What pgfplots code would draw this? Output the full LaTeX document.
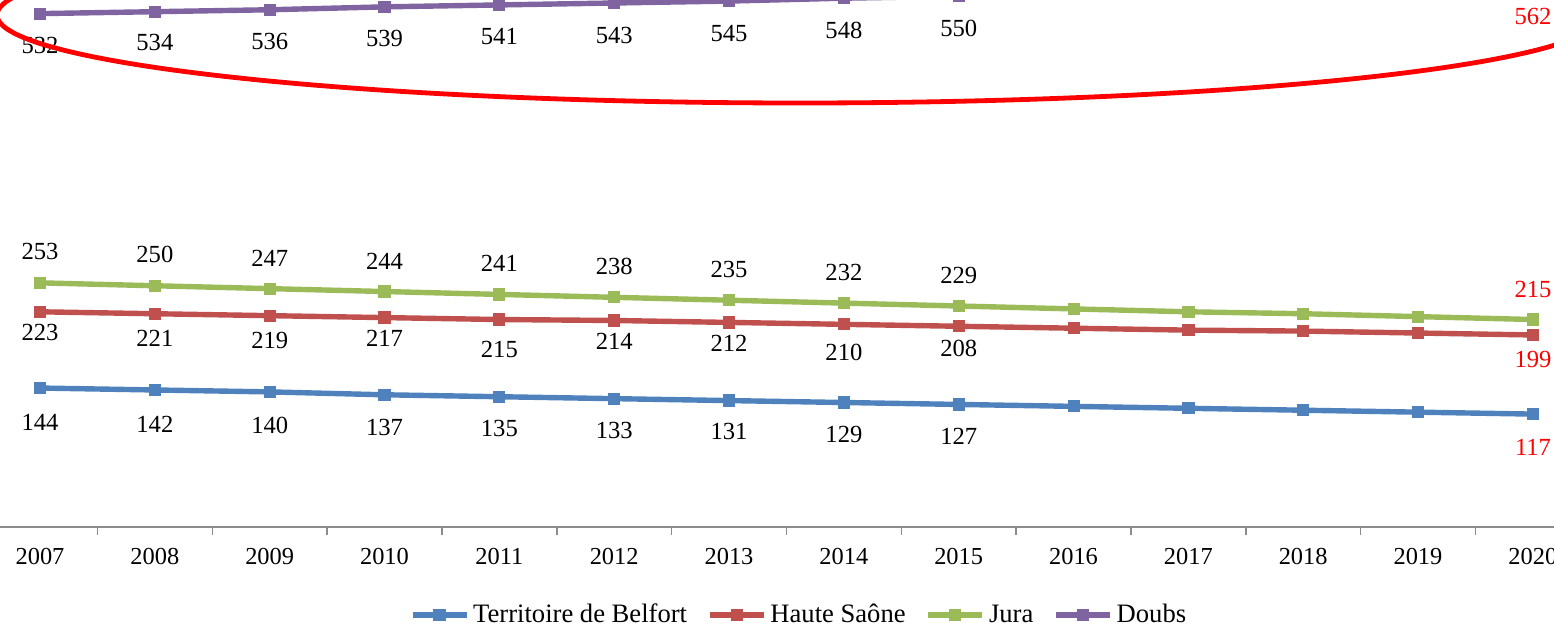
\documentclass[border=0pt]{standalone}
\usepackage{fontspec}
\setmainfont{Liberation Serif}
\usepackage{pgfplots}
\usepackage{pgfplotstable}
\pgfplotsset{compat=1.18}
\definecolor{cBelfort}{HTML}{4F81BD}
\definecolor{cHaute}{HTML}{C0504D}
\definecolor{cJura}{HTML}{9BBB59}
\definecolor{cDoubs}{HTML}{8064A2}
\definecolor{axisgray}{HTML}{8C8C8C}

% year, value, label offset in px (positive = below the point)
\pgfplotstableread{
year val dy
2007 144 34
2008 142 34
2009 140 34
2010 137 33
2011 135 32
2012 133 32
2013 131 31
2014 129 32
2015 127 32
2016 125 33
2017 123 33
2018 121 33
2019 119 33
2020 117 33
}\belfort
\pgfplotstableread{
year val dy
2007 223 21
2008 221 25
2009 219 25
2010 217 21
2011 215 30
2012 214 21
2013 212 21
2014 210 28
2015 208 22
2016 206 25
2017 204 25
2018 203 25
2019 201 25
2020 199 25
}\haute
\pgfplotstableread{
year val dy
2007 253 -31
2008 250 -31
2009 247 -30
2010 244 -30
2011 241 -31
2012 238 -31
2013 235 -31
2014 232 -31
2015 229 -31
2016 226 -31
2017 223 -31
2018 221 -31
2019 218 -31
2020 215 -30
}\jura
\pgfplotstableread{
year val dy
2007 532 32
2008 534 31
2009 536 32
2010 539 32
2011 541 32
2012 543 32
2013 545 32
2014 548 32
2015 550 32
2016 552 32
2017 555 32
2018 557 32
2019 560 32
2020 562 32
}\doubs

\pgfplotsset{
  lbl/.style={draw=none, mark=none, forget plot, nodes near coords,
    point meta=explicit,
    visualization depends on={\thisrow{dy} \as \dy},
    every node near coord/.append style={anchor=center, yshift=-0.5*\dy pt,
      font=\fontsize{12.3}{14}\selectfont, inner sep=0pt}},
  early/.style={lbl, x filter/.expression={x>2015.5 ? nan : x},
    every node near coord/.append style={text=black}},
  last/.style={lbl, x filter/.expression={x<2019.5 ? nan : x},
    every node near coord/.append style={text=red}},
  serie/.style={line width=2.7pt, mark=square*, mark size=2.8pt,
    mark options={solid, line width=0.5pt, fill=#1}, color=#1},
}

\begin{document}
\begin{tikzpicture}
\useasboundingbox (0pt,0pt) rectangle (777pt,313.5pt);
\clip (0pt,0pt) rectangle (777pt,313.5pt);
\begin{axis}[
  at={(-8.7pt,50pt)}, anchor=south west,
  scale only axis, width=803.9pt, height=289.5pt,
  xmin=2006.5, xmax=2020.5, ymin=0, ymax=600,
  axis y line=none, axis x line*=bottom,
  x axis line style={draw=axisgray, line width=0.75pt},
  xtick={2007,...,2020},
  minor xtick={2006.5,2007.5,...,2020.5},
  major tick length=0pt, minor tick length=4pt, tick align=outside,
  every minor tick/.style={draw=axisgray, line width=0.75pt},
  xticklabel style={font=\fontsize{12.2}{14}\selectfont, yshift=-7pt},
  /pgf/number format/1000 sep={},
  /pgf/number format/assume math mode=true,
  legend columns=4,
  legend cell align=left,
  legend style={at={(0.5084,-0.152)}, anchor=center, draw=none,
    font=\fontsize{13.3}{15}\selectfont, inner sep=0pt,
    /tikz/every even column/.append style={column sep=8pt}},
  legend image code/.code={\draw[#1, line width=2.7pt, mark repeat=2, mark phase=2]
    plot coordinates {(0pt,0pt) (13.5pt,0pt) (27pt,0pt)};},
]
\addplot[serie=cBelfort] table[x=year, y=val] {\belfort};
\addlegendentry{Territoire de Belfort}
\addplot[serie=cHaute] table[x=year, y=val] {\haute};
\addlegendentry{Haute Saône}
\addplot[serie=cJura] table[x=year, y=val] {\jura};
\addlegendentry{Jura}
\addplot[serie=cDoubs] table[x=year, y=val] {\doubs};
\addlegendentry{Doubs}

\addplot[early] table[x=year, y=val, meta=val] {\belfort};
\addplot[last] table[x=year, y=val, meta=val] {\belfort};
\addplot[early] table[x=year, y=val, meta=val] {\haute};
\addplot[last] table[x=year, y=val, meta=val] {\haute};
\addplot[early] table[x=year, y=val, meta=val] {\jura};
\addplot[last] table[x=year, y=val, meta=val] {\jura};
\addplot[early] table[x=year, y=val, meta=val] {\doubs};
\addplot[last] table[x=year, y=val, meta=val] {\doubs};
\end{axis}
% hand-drawn highlight around the Doubs series
\draw[red, line width=2.4pt] (400pt,306pt) ellipse [x radius=401.5pt, y radius=44pt];
\end{tikzpicture}
\end{document}
